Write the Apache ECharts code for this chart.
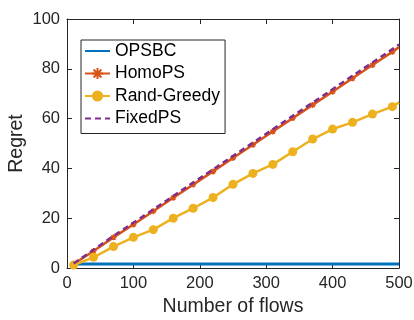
<!DOCTYPE html>
<html>
<head>
<meta charset="utf-8">
<script src="https://cdn.jsdelivr.net/npm/echarts@6/dist/echarts.min.js"></script>
<style>html,body{margin:0;padding:0;background:#fff}#c{width:414px;height:320px}</style>
</head>
<body>
<div id="c"></div>
<script>
var flows = [10, 40, 70, 100, 130, 160, 190, 220, 250, 280, 310, 340, 370, 400, 430, 460, 490, 500];
var opsbc = [1.6, 1.6, 1.6, 1.6, 1.6, 1.6, 1.6, 1.6, 1.6, 1.6, 1.6, 1.6, 1.6, 1.6, 1.6, 1.6, 1.6, 1.6];
var homoPS = [1.6, 6.8, 12.3, 17.5, 22.8, 28.2, 33.5, 38.8, 44.2, 49.5, 54.8, 60.2, 65.5, 70.8, 76.2, 81.5, 86.8, 88.7];
var randGreedy = [1.2, 4.3, 8.6, 12.3, 15.4, 20.0, 24.0, 28.3, 33.6, 38.0, 41.6, 46.7, 51.8, 55.8, 58.5, 61.8, 64.8, 66.5];
var fixedPS = [1.8, 7.3, 12.9, 18.2, 23.5, 28.9, 34.3, 39.6, 45.0, 50.3, 55.7, 61.1, 66.4, 71.8, 77.2, 82.5, 87.9, 89.8];
var xTicks = [0, 100, 200, 300, 400, 500];
var yTicks = [0, 20, 40, 60, 80, 100];

function pairs(ys) { return flows.map(function (x, i) { return [x, ys[i]]; }); }
var last = flows.length - 1;
var FONT = '"Liberation Sans", Arial, Helvetica, sans-serif';
var AX = '#262626';

var chart = echarts.init(document.getElementById('c'), null, {renderer: 'canvas'});
function axisCommon(extra) {
  return Object.assign({
    axisLine: {show: true, onZero: false, lineStyle: {color: AX, width: 1}},
    axisTick: {show: true, inside: true, length: 5, lineStyle: {color: AX}},
    splitLine: {show: false},
    axisLabel: {color: AX, fontSize: 16.5, fontFamily: FONT}
  }, extra);
}
var asterisk = 'path://M0,-5L0,5M-5,0L5,0M-3.5,-3.5L3.5,3.5M-3.5,3.5L3.5,-3.5';
var noSym = {color: 'rgba(0,0,0,0)', borderWidth: 0};
chart.setOption({
  animation: false,
  textStyle: {fontFamily: FONT},
  grid: {left: 67, right: 15, top: 19, bottom: 52, containLabel: false, outerBoundsMode: 'none'},
  legend: {
    orient: 'vertical', left: 81, top: 40,
    backgroundColor: '#fff', borderColor: AX, borderWidth: 1, borderRadius: 0,
    padding: [1, 5, 5, 3],
    itemWidth: 25, itemHeight: 14, itemGap: 2.5, itemTextGap: 2,
    textStyle: {color: '#000', fontSize: 17.5, fontFamily: FONT, lineHeight: 20},
    data: [
      {name: 'OPSBC', itemStyle: noSym},
      {name: 'HomoPS'},
      {name: 'Rand-Greedy'},
      {name: 'FixedPS', itemStyle: noSym}
    ]
  },
  xAxis: [
    axisCommon({type: 'value', min: 0, max: 500, interval: 100, position: 'bottom',
      name: 'Number of flows', nameLocation: 'middle', nameGap: 23,
      nameTextStyle: {color: AX, fontSize: 19.5, fontFamily: FONT},
      axisLabel: {color: AX, fontSize: 16.5, fontFamily: FONT, margin: 7,
        formatter: function (v) { return xTicks.indexOf(v) >= 0 ? String(v) : ''; }}}),
    axisCommon({type: 'value', min: 0, max: 500, interval: 100, position: 'top',
      axisLabel: {show: false}})
  ],
  yAxis: [
    axisCommon({type: 'value', min: 0, max: 100, interval: 20, position: 'left',
      name: 'Regret', nameLocation: 'middle', nameGap: 40, nameMoveOverlap: false,
      nameTextStyle: {color: AX, fontSize: 19.5, fontFamily: FONT},
      axisLabel: {color: AX, fontSize: 16.5, fontFamily: FONT, margin: 7,
        formatter: function (v) { return yTicks.indexOf(v) >= 0 ? String(v) : ''; }}}),
    axisCommon({type: 'value', min: 0, max: 100, interval: 20, position: 'right',
      axisLabel: {show: false}})
  ],
  series: [
    {name: 'OPSBC', type: 'line', data: pairs(opsbc), showSymbol: false, symbol: 'none',
      lineStyle: {color: '#0072BD', width: 3}, itemStyle: {color: '#0072BD'}, z: 2},
    {name: 'HomoPS', type: 'line', data: pairs(homoPS), symbol: asterisk,
      symbolSize: function (v, p) { return p.dataIndex === last ? 0 : 6; },
      lineStyle: {color: '#D95319', width: 2.5},
      itemStyle: {color: '#D95319', borderColor: '#D95319', borderWidth: 1.5}, z: 3},
    {name: 'Rand-Greedy', type: 'line', data: pairs(randGreedy), symbol: 'circle',
      symbolSize: function (v, p) { return p.dataIndex === last ? 0 : 9; },
      lineStyle: {color: '#EDB120', width: 2.5},
      itemStyle: {color: '#EDB120'}, z: 4},
    {name: 'FixedPS', type: 'line', data: pairs(fixedPS), showSymbol: false, symbol: 'none',
      lineStyle: {color: '#7E2F8E', width: 2.5, type: [6, 4]},
      itemStyle: {color: '#7E2F8E'}, z: 5}
  ]
});
</script>
</body>
</html>
